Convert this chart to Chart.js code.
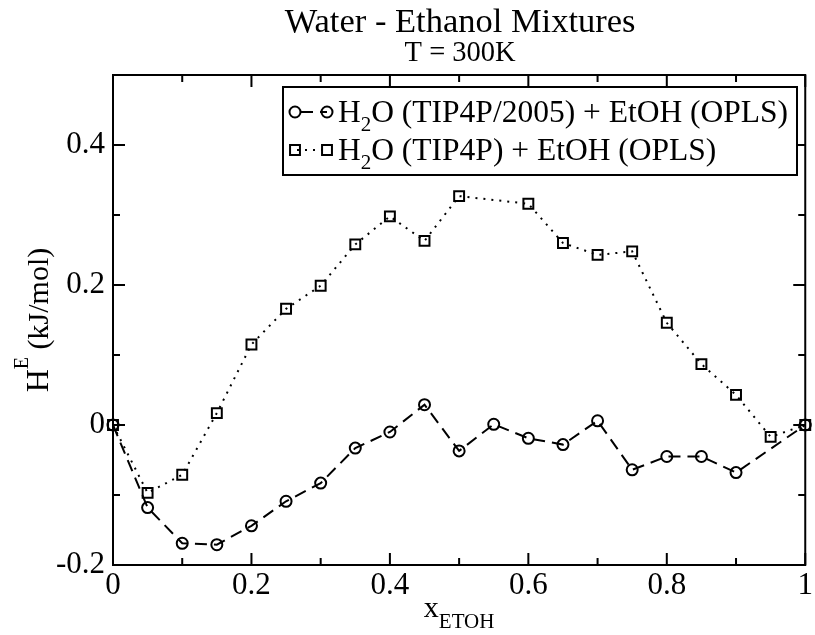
<!DOCTYPE html>
<html>
<head>
<meta charset="utf-8">
<script src="https://cdn.jsdelivr.net/npm/chart.js@4/dist/chart.umd.min.js"></script>
<style>
html,body{margin:0;padding:0;background:#fff;}
canvas{display:block;}
</style>
</head>
<body>
<canvas id="c" width="815" height="635"></canvas>
<script>
// ---- data ----
const xCircle = [0, 0.05, 0.1, 0.15, 0.2, 0.25, 0.3, 0.35, 0.4, 0.45, 0.5, 0.55, 0.6, 0.65, 0.7, 0.75, 0.8, 0.85, 0.9, 1.0];
const yCircle = [0, -0.118, -0.169, -0.171, -0.144, -0.109, -0.083, -0.033, -0.010, 0.029, -0.037, 0.001, -0.019, -0.028, 0.006, -0.064, -0.045, -0.045, -0.068, 0];
const xSquare = [0, 0.05, 0.1, 0.15, 0.2, 0.25, 0.3, 0.35, 0.4, 0.45, 0.5, 0.6, 0.65, 0.7, 0.75, 0.8, 0.85, 0.9, 0.95, 1.0];
const ySquare = [0, -0.097, -0.071, 0.017, 0.115, 0.166, 0.199, 0.258, 0.298, 0.263, 0.327, 0.316, 0.260, 0.243, 0.248, 0.146, 0.087, 0.043, -0.017, 0];
const xTickValues = [0, 0.2, 0.4, 0.6, 0.8, 1];
const yTickValues = [-0.2, 0, 0.2, 0.4];
const xMinorValues = [0, 0.1, 0.2, 0.3, 0.4, 0.5, 0.6, 0.7, 0.8, 0.9, 1];
const yMinorValues = [-0.2, -0.1, 0, 0.1, 0.2, 0.3, 0.4, 0.5];
const seriesNames = [["H", "2", "O (TIP4P/2005) + EtOH (OPLS)"], ["H", "2", "O (TIP4P) + EtOH (OPLS)"]];
const titleText = "Water - Ethanol Mixtures";
const subtitleText = "T = 300K";

const FONT = '"Liberation Serif", "Times New Roman", serif';

function fmt(v){ if (Math.abs(v) < 1e-9) return '0'; return String(+v.toFixed(1)); }

const framePlugin = {
  id: 'frameTicks',
  beforeDatasetsDraw(chart){
    const {ctx, chartArea:a, scales:{x, y}} = chart;
    ctx.save();
    ctx.strokeStyle = '#000';
    ctx.lineWidth = 2;
    ctx.strokeRect(a.left, a.top, a.right - a.left, a.bottom - a.top);
    ctx.beginPath();
    xMinorValues.forEach(v => {
      const px = x.getPixelForValue(v);
      const major = xTickValues.some(t => Math.abs(t - v) < 1e-9);
      const L = major ? 12 : 7;
      ctx.moveTo(px, a.bottom); ctx.lineTo(px, a.bottom - L);
      ctx.moveTo(px, a.top); ctx.lineTo(px, a.top + L);
    });
    yMinorValues.forEach(v => {
      const py = y.getPixelForValue(v);
      const major = Math.abs(Math.round(v * 10) % 2) === 0;
      const L = major ? 12 : 7;
      ctx.moveTo(a.left, py); ctx.lineTo(a.left + L, py);
      ctx.moveTo(a.right, py); ctx.lineTo(a.right - L, py);
    });
    ctx.stroke();
    ctx.restore();
  },
  afterDraw(chart){
    const {ctx, chartArea:a} = chart;
    const cx = (a.left + a.right) / 2;
    const cy = (a.top + a.bottom) / 2;
    ctx.save();
    ctx.fillStyle = '#000';
    ctx.textBaseline = 'alphabetic';
    // titles
    ctx.textAlign = 'center';
    ctx.font = '34.5px ' + FONT;
    ctx.fillText(titleText, cx + 1, 32);
    ctx.font = '28.5px ' + FONT;
    ctx.fillText(subtitleText, cx + 1, 61);

    // x axis title: x_ETOH
    ctx.textAlign = 'left';
    ctx.font = '30px ' + FONT;
    const wx = ctx.measureText('x').width;
    ctx.font = '21px ' + FONT;
    const ws = ctx.measureText('ETOH').width;
    let sx = cx - (wx + ws) / 2;
    ctx.font = '30px ' + FONT;
    ctx.fillText('x', sx, 617);
    ctx.font = '21px ' + FONT;
    ctx.fillText('ETOH', sx + wx, 628);

    // y axis title: H^E (kJ/mol)
    ctx.save();
    ctx.translate(48, cy);
    ctx.rotate(-Math.PI / 2);
    ctx.font = '32px ' + FONT;
    const wH = ctx.measureText('H').width;
    ctx.font = '30px ' + FONT;
    const wRest = ctx.measureText(' (kJ/mol)').width;
    ctx.font = '20px ' + FONT;
    const wE = ctx.measureText('E').width;
    let tx = -(wH + wE + wRest) / 2;
    ctx.font = '32px ' + FONT;
    ctx.fillText('H', tx, 0);
    ctx.font = '20px ' + FONT;
    ctx.fillText('E', tx + wH, -20);
    ctx.font = '30px ' + FONT;
    ctx.fillText(' (kJ/mol)', tx + wH + wE, 0);
    ctx.restore();

    // legend
    const bx = 283, by = 87, bw = 514, bh = 88;
    ctx.fillStyle = '#fff';
    ctx.fillRect(bx, by, bw, bh);
    ctx.strokeStyle = '#000';
    ctx.lineWidth = 2;
    ctx.strokeRect(bx, by, bw, bh);
    const rows = [{yc: 112, base: 122}, {yc: 150, base: 160}];
    chart.data.datasets.forEach((ds, i) => {
      const r = rows[i];
      const x0 = 295, x1 = 327;
      ctx.save();
      ctx.strokeStyle = '#000';
      ctx.lineWidth = 2;
      ctx.setLineDash(ds.borderDash);
      ctx.lineDashOffset = i === 0 ? -6 : -2;
      ctx.beginPath();
      ctx.moveTo(x0, r.yc); ctx.lineTo(x1, r.yc);
      ctx.stroke();
      ctx.restore();
      ctx.save();
      ctx.strokeStyle = '#000';
      ctx.lineWidth = 2;
      ctx.fillStyle = 'rgba(0,0,0,0)';
      [x0, x1].forEach(px => {
        Chart.helpers.drawPoint(ctx, {pointStyle: ds.pointStyle, radius: ds.pointRadius, borderWidth: 2, rotation: 0}, px, r.yc);
      });
      ctx.restore();
      const parts = seriesNames[i];
      let tx = 338;
      ctx.fillStyle = '#000';
      ctx.font = '31.5px ' + FONT;
      ctx.fillText(parts[0], tx, r.base);
      tx += ctx.measureText(parts[0]).width;
      ctx.font = '21px ' + FONT;
      ctx.fillText(parts[1], tx, r.base + 9);
      tx += ctx.measureText(parts[1]).width;
      ctx.font = '31.5px ' + FONT;
      ctx.fillText(parts[2], tx, r.base);
    });
    ctx.restore();
  }
};

new Chart(document.getElementById('c'), {
  type: 'scatter',
  data: {
    datasets: [
      {
        label: seriesNames[0].join(''),
        data: xCircle.map((v, i) => ({x: v, y: yCircle[i]})),
        showLine: true,
        borderColor: '#000',
        borderWidth: 2,
        borderDash: [12, 7],
        pointStyle: 'circle',
        pointRadius: 5.5,
        pointBorderWidth: 2,
        pointBorderColor: '#000',
        pointBackgroundColor: 'rgba(0,0,0,0)',
        tension: 0,
        clip: false
      },
      {
        label: seriesNames[1].join(''),
        data: xSquare.map((v, i) => ({x: v, y: ySquare[i]})),
        showLine: true,
        borderColor: '#000',
        borderWidth: 2,
        borderDash: [2, 6],
        pointStyle: 'rect',
        pointRadius: 7,
        pointBorderWidth: 2,
        pointBorderColor: '#000',
        pointBackgroundColor: 'rgba(0,0,0,0)',
        tension: 0,
        clip: false
      }
    ]
  },
  options: {
    responsive: false,
    animation: false,
    devicePixelRatio: 1,
    layout: {padding: {top: 75, right: 7, left: 0, bottom: 0}},
    plugins: {legend: {display: false}, tooltip: {enabled: false}, title: {display: false}},
    scales: {
      x: {
        type: 'linear', min: 0, max: 1,
        grid: {display: false, drawTicks: false},
        border: {display: false},
        afterBuildTicks(s){ s.ticks = xTickValues.map(v => ({value: v})); },
        afterFit(s){ s.height = 70; },
        ticks: {color: '#000', font: {family: FONT, size: 31}, padding: 2, maxRotation: 0, autoSkip: false, callback: fmt}
      },
      y: {
        type: 'linear', min: -0.2, max: 0.5,
        grid: {display: false, drawTicks: false},
        border: {display: false},
        afterBuildTicks(s){ s.ticks = yTickValues.map(v => ({value: v})); },
        afterFit(s){ s.width = 113; },
        ticks: {color: '#000', font: {family: FONT, size: 31}, padding: 8, autoSkip: false, callback: fmt}
      }
    }
  },
  plugins: [framePlugin]
});
</script>
</body>
</html>
